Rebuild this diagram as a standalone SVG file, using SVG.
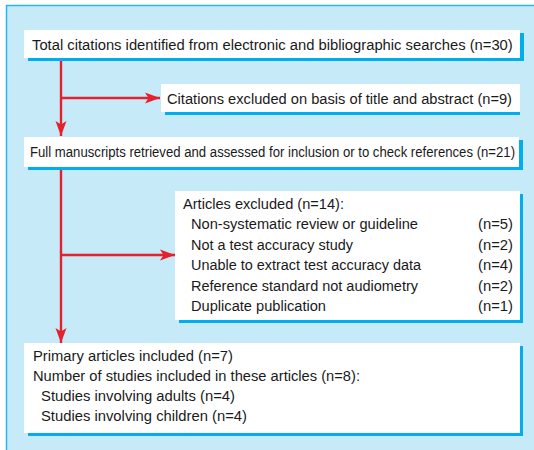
<svg xmlns="http://www.w3.org/2000/svg" width="534" height="450" viewBox="0 0 534 450">
  <style>
    .panel { fill: #c7eaf9; stroke: #29b6ea; stroke-width: 1.5; }
    .shadow { fill: #00aeef; }
    .box { fill: #ffffff; }
    .t { font-family: "Liberation Sans Narrow", "Liberation Sans", Arial, sans-serif; font-size: 15.5px; fill: #1a1a1a; }
    .s { font-size: 14.5px; }
    .conn { fill: none; stroke: #e4212d; stroke-width: 2.4; }
  </style>
  <defs>
    <marker id="arrow" markerUnits="userSpaceOnUse" markerWidth="16" markerHeight="12" refX="15" refY="6" orient="auto">
      <path d="M0,0.5 L15,6 L0,11.5 L3.5,6 Z" fill="#e4212d"/>
    </marker>
  </defs>

  <rect class="panel" x="6.5" y="5.5" width="540" height="460"/>

  <g id="connectors">
    <path class="conn" d="M61,58 L61,136" marker-end="url(#arrow)"/>
    <path class="conn" d="M61,98 L160,98" marker-end="url(#arrow)"/>
    <path class="conn" d="M61,167 L61,343" marker-end="url(#arrow)"/>
    <path class="conn" d="M61,255 L175,255" marker-end="url(#arrow)"/>
  </g>

  <g id="node-total">
    <rect class="shadow" x="28" y="33" width="496" height="28"/>
    <rect class="box" x="24" y="30" width="496" height="28"/>
    <text class="t" transform="translate(32,49.5) scale(0.86,1)" x="0" y="0" textLength="559" lengthAdjust="spacingAndGlyphs">Total citations identified from electronic and bibliographic searches (n=30)</text>
  </g>

  <g id="node-excluded-title">
    <rect class="shadow" x="165" y="87" width="355" height="28"/>
    <rect class="box" x="161" y="84" width="359" height="28"/>
    <text class="t" x="167" y="103.5" textLength="345" lengthAdjust="spacingAndGlyphs">Citations excluded on basis of title and abstract (n=9)</text>
  </g>

  <g id="node-full">
    <rect class="shadow" x="28" y="140" width="495" height="30"/>
    <rect class="box" x="24" y="137" width="495" height="30"/>
    <text class="t s" transform="translate(30,156.5) scale(0.86,1)" x="0" y="0" textLength="564" lengthAdjust="spacingAndGlyphs">Full manuscripts retrieved and assessed for inclusion or to check references (n=21)</text>
  </g>

  <g id="node-articles-excluded">
    <rect class="shadow" x="179" y="194" width="344" height="129"/>
    <rect class="box" x="175" y="191" width="345" height="129"/>
    <text class="t" x="183" y="208.5" textLength="161" lengthAdjust="spacingAndGlyphs">Articles excluded (n=14):</text>
    <text class="t" x="191" y="229" textLength="227" lengthAdjust="spacingAndGlyphs">Non-systematic review or guideline</text>
    <text class="t" x="191" y="249.5" textLength="162" lengthAdjust="spacingAndGlyphs">Not a test accuracy study</text>
    <text class="t" x="191" y="270" textLength="230" lengthAdjust="spacingAndGlyphs">Unable to extract test accuracy data</text>
    <text class="t" x="191" y="290.5" textLength="227" lengthAdjust="spacingAndGlyphs">Reference standard not audiometry</text>
    <text class="t" x="191" y="310.5" textLength="135" lengthAdjust="spacingAndGlyphs">Duplicate publication</text>
    <text class="t" x="478" y="229" textLength="35" lengthAdjust="spacingAndGlyphs">(n=5)</text>
    <text class="t" x="478" y="249.5" textLength="35" lengthAdjust="spacingAndGlyphs">(n=2)</text>
    <text class="t" x="478" y="270" textLength="35" lengthAdjust="spacingAndGlyphs">(n=4)</text>
    <text class="t" x="478" y="290.5" textLength="35" lengthAdjust="spacingAndGlyphs">(n=2)</text>
    <text class="t" x="478" y="310.5" textLength="35" lengthAdjust="spacingAndGlyphs">(n=1)</text>
  </g>

  <g id="node-included">
    <rect class="shadow" x="28" y="346" width="495" height="90"/>
    <rect class="box" x="24" y="343" width="496" height="90"/>
    <text class="t" x="33" y="360.5" textLength="200" lengthAdjust="spacingAndGlyphs">Primary articles included (n=7)</text>
    <text class="t" x="33" y="380.5" textLength="327" lengthAdjust="spacingAndGlyphs">Number of studies included in these articles (n=8):</text>
    <text class="t" x="41" y="401" textLength="194" lengthAdjust="spacingAndGlyphs">Studies involving adults (n=4)</text>
    <text class="t" x="41" y="421" textLength="206" lengthAdjust="spacingAndGlyphs">Studies involving children (n=4)</text>
  </g>
</svg>
